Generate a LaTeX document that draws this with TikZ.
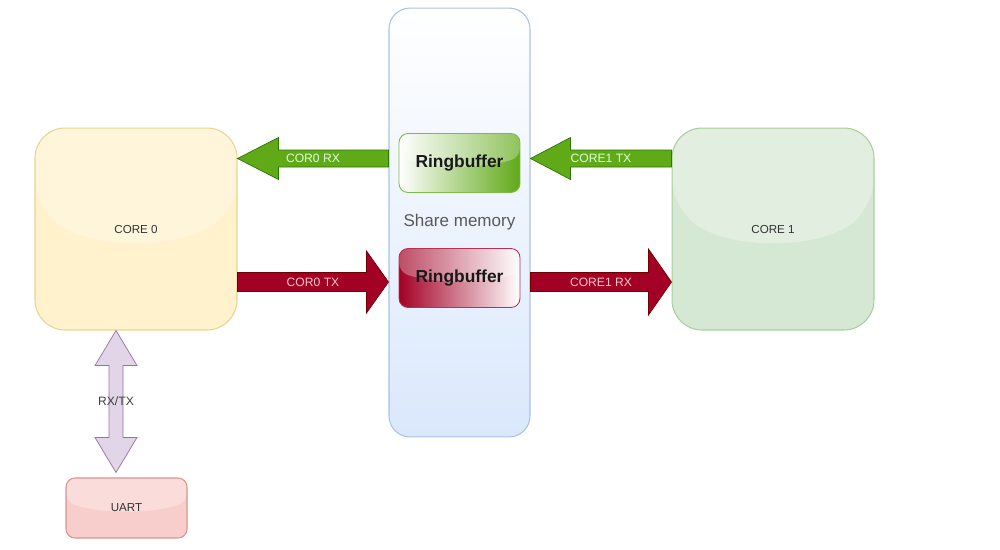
\documentclass[tikz,border=0pt]{standalone}
\usepackage{fontspec}
\setmainfont{Liberation Sans}
\usetikzlibrary{positioning, calc}

\definecolor{corezerofill}{HTML}{FFF2CC}
\definecolor{corezeroline}{HTML}{E9D48E}
\definecolor{coreonefill}{HTML}{D5E8D4}
\definecolor{coreoneline}{HTML}{A9CF9B}
\definecolor{uartfill}{HTML}{F8CECC}
\definecolor{uartline}{HTML}{D99492}
\definecolor{shmfill}{HTML}{DAE8FC}
\definecolor{shmline}{HTML}{A9C2E6}
\definecolor{rbgreen}{HTML}{60A917}
\definecolor{rbgreenline}{HTML}{2D7600}
\definecolor{rbred}{HTML}{A20025}
\definecolor{rbredline}{HTML}{6F0000}
\definecolor{ux}{HTML}{E1D5E7}
\definecolor{uxline}{HTML}{9673A6}

% block arrow: style, from, to, shaft half width, head length, head half width
\newcommand{\blockarrow}[6]{%
  \coordinate (ba-h) at ($(#3)!#5!(#2)$);
  \draw[#1] ($(#2)!#4!90:(#3)$) -- ($(ba-h)!#4!90:(#3)$) -- ($(ba-h)!#6!90:(#3)$) -- (#3)
    -- ($(ba-h)!#6!-90:(#3)$) -- ($(ba-h)!#4!-90:(#3)$) -- ($(#2)!#4!-90:(#3)$) -- cycle;
}
% same with a head at both ends
\newcommand{\dblarrow}[6]{%
  \coordinate (da-h) at ($(#3)!#5!(#2)$);
  \coordinate (da-t) at ($(#2)!#5!(#3)$);
  \draw[#1] (#2) -- ($(da-t)!#6!90:(#3)$) -- ($(da-t)!#4!90:(#3)$) -- ($(da-h)!#4!90:(#3)$)
    -- ($(da-h)!#6!90:(#3)$) -- (#3) -- ($(da-h)!#6!-90:(#3)$) -- ($(da-h)!#4!-90:(#3)$)
    -- ($(da-t)!#4!-90:(#3)$) -- ($(da-t)!#6!-90:(#3)$) -- cycle;
}

\begin{document}
\begin{tikzpicture}[
    x=0.02cm, y=-0.02cm,
    glass/.style={path picture={
        \fill[white, opacity=0.3]
          (path picture bounding box.north west) --
          ($(path picture bounding box.north west)!0.4!(path picture bounding box.south west)$)
          .. controls ($(path picture bounding box.north west)!0.6!(path picture bounding box.south)$)
          and ($(path picture bounding box.north east)!0.6!(path picture bounding box.south)$) ..
          ($(path picture bounding box.north east)!0.4!(path picture bounding box.south east)$) --
          (path picture bounding box.north east) -- cycle;
    }},
    core/.style={rectangle, draw=#1line, fill=#1fill, line width=0.6pt, rounded corners=0.6cm,
                 minimum width=4.04cm, minimum height=4.04cm, glass,
                 font=\fontsize{6.6}{8}\selectfont, text=black!80},
    ringbuf/.style={rectangle, rounded corners=0.18cm, minimum width=2.42cm, minimum height=1.18cm,
                    font=\fontsize{9.9}{11}\selectfont\bfseries, text=black!90, line width=0.5pt},
    barr/.style={fill=#1, draw=#1line, line width=0.4pt, line join=miter},
    alabel/.style={font=\fontsize{6.9}{8}\selectfont, text=#1, inner sep=1pt},
]
\useasboundingbox (0,0) rectangle (1000,549);

\node[rectangle, rounded corners=0.42cm, draw=shmline, line width=0.6pt,
      top color=white, bottom color=shmfill, minimum width=2.82cm, minimum height=8.58cm]
      (shm) at (459.5,222.5) {};
\node[font=\fontsize{9.7}{11}\selectfont, text=black!65] (shmlabel) at (shm.center) {Share memory};

\node[ringbuf, left color=white, right color=rbgreen, draw=rbgreen!80!white, glass] (rbg) at (459.5,163) {Ringbuffer};
\node[ringbuf, left color=rbred, right color=white, draw=rbred!80!white, glass] (rbr) at (459.5,278) {Ringbuffer};

\node[core=corezero] (core0) at (136,229) {CORE 0};
\node[core=coreone] (core1) at (773,229) {CORE 1};

\node[rectangle, draw=uartline, fill=uartfill, line width=0.6pt, rounded corners=0.18cm, glass,
      minimum width=2.42cm, minimum height=1.2cm, font=\fontsize{6.6}{8}\selectfont, text=black!80,
      below=2.94cm of core0, xshift=-0.19cm] (uart) {UART};

% arrow ends
\coordinate (rx0a) at ($(shm.west)+(0,-64)$);
\coordinate (rx0b) at ($(core0.east)+(0,-70.5)$);
\coordinate (tx1a) at ($(core1.west)+(0,-70.5)$);
\coordinate (tx1b) at ($(shm.east)+(0,-64)$);
\coordinate (tx0a) at ($(core0.east)+(0,53)$);
\coordinate (tx0b) at ($(shm.west)+(0,59.5)$);
\coordinate (rx1a) at ($(shm.east)+(0,59.5)$);
\coordinate (rx1b) at ($(core1.west)+(0,53)$);
\coordinate (ua) at ($(core0.south)+(-20,0)$);
\coordinate (ub) at ($(uart.north)+(-10.5,-5)$);

\blockarrow{barr=rbgreen}{rx0a}{rx0b}{0.17cm}{0.82cm}{0.42cm}
\blockarrow{barr=rbgreen}{tx1a}{tx1b}{0.17cm}{0.8cm}{0.42cm}
\blockarrow{barr=rbred}{tx0a}{tx0b}{0.19cm}{0.44cm}{0.62cm}
\blockarrow{barr=rbred}{rx1a}{rx1b}{0.19cm}{0.46cm}{0.66cm}
\dblarrow{barr=ux}{ua}{ub}{0.14cm}{0.7cm}{0.42cm}

\node[alabel=green!12!white] (rx0lbl) at ($(rx0a)!0.5!(rx0b)$) {COR0 RX};
\node[alabel=green!12!white] (tx1lbl) at ($(tx1a)!0.5!(tx1b)$) {CORE1 TX};
\node[alabel=red!22!white] (tx0lbl) at ($(tx0a)!0.5!(tx0b)$) {COR0 TX};
\node[alabel=red!22!white] (rx1lbl) at ($(rx1a)!0.5!(rx1b)$) {CORE1 RX};
\node[alabel=black!75] (uxlbl) at ($(ua)!0.5!(ub)$) {RX/TX};

\end{tikzpicture}
\end{document}
